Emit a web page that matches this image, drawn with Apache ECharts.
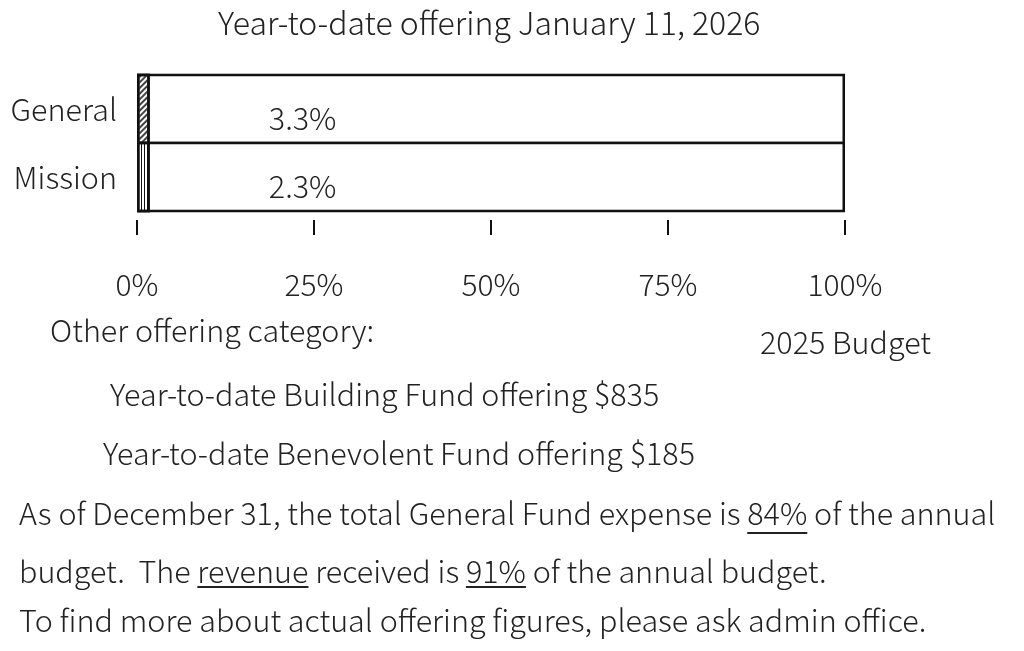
<!DOCTYPE html>
<html><head><meta charset="utf-8">
<script src="https://cdn.jsdelivr.net/npm/echarts@6/dist/echarts.min.js"></script>
<style>html,body{margin:0;padding:0;background:#fff}#c{width:1024px;height:651px}</style>
</head><body><div id="c"></div>
<script>
const categories = ['General', 'Mission'];
const percentLabels = ['3.3%', '2.3%'];
const fillLengths = [1.8, 1.8];
const budgetTotal = [100, 100];
const tickValues = [0, 25, 50, 75, 100];

const FONT = '"Noto Sans CJK JP", "Noto Sans", sans-serif';
const TXT = '#222';
const BODY = 30.5;
const BW = 2.5;
const chart = echarts.init(document.getElementById('c'));

const mctx = document.createElement('canvas').getContext('2d');
function fontStr(size) { return '300 ' + size + 'px ' + FONT; }
function txt(text, x, y, size) {
  return { type: 'text', x: x, y: y, style: { text: text, fill: TXT, font: fontStr(size || BODY), textVerticalAlign: 'middle' } };
}
function ulineWord(text, word, x, y, size) {
  mctx.font = fontStr(size || BODY);
  const i = text.indexOf(word);
  const x1 = x + mctx.measureText(text.slice(0, i)).width;
  const x2 = x1 + mctx.measureText(word).width;
  return { type: 'line', shape: { x1: x1, y1: y, x2: x2, y2: y }, style: { stroke: '#222', lineWidth: 2 } };
}

const line1 = 'As of December 31, the total General Fund expense is 84% of the annual';
const line2 = 'budget.  The revenue received is 91% of the annual budget.';
const line3 = 'To find more about actual offering figures, please ask admin office.';

const decals = [
  { symbol: 'rect', symbolSize: 1, color: '#444', dashArrayX: [1, 0], dashArrayY: [1.2, 1.3], rotation: -Math.PI / 4 },
  { symbol: 'rect', symbolSize: 1, color: '#111', dashArrayX: [1, 1.5], dashArrayY: [1, 0], rotation: 0 }
];

chart.setOption({
  animation: false,
  title: { text: 'Year-to-date offering January 11, 2026', left: 213, top: 2,
    textStyle: { fontFamily: FONT, fontWeight: 300, fontSize: 32, color: TXT } },
  grid: { left: 137, right: 179, top: 75, height: 136 },
  xAxis: {
    type: 'value', min: 0, max: 100, interval: 25, offset: 9,
    splitLine: { show: false },
    axisLine: { show: false },
    axisTick: { show: true, length: 15, lineStyle: { color: '#111', width: 2 } },
    axisLabel: { margin: 50, formatter: '{value}%', fontFamily: FONT, fontWeight: 300, fontSize: 30, color: TXT,
      customValues: tickValues }
  },
  yAxis: {
    type: 'category', data: categories, inverse: true,
    axisLine: { show: false }, axisTick: { show: false },
    axisLabel: { margin: 20, fontFamily: FONT, fontWeight: 300, fontSize: BODY, color: TXT }
  },
  series: [
    {
      type: 'bar', data: budgetTotal, barWidth: 68 + BW, barGap: '-100%', barCategoryGap: '0%', z: 2,
      itemStyle: { color: '#fff', borderColor: '#111', borderWidth: BW },
      label: { show: true, position: ['23.4%', '63%'], align: 'center', verticalAlign: 'middle',
        formatter: p => percentLabels[p.dataIndex], fontFamily: FONT, fontWeight: 300, fontSize: BODY, color: TXT }
    },
    {
      type: 'bar', data: fillLengths.map((v, i) => ({ value: v, itemStyle: { decal: decals[i] } })),
      barWidth: 68 + BW, barGap: '-100%', barCategoryGap: '0%', z: 3,
      itemStyle: { color: '#fff', borderColor: '#111', borderWidth: BW }
    }
  ],
  graphic: [
    txt('Other offering category:', 50, 330),
    txt('2025 Budget', 760, 342),
    txt('Year-to-date Building Fund offering $835', 110, 394),
    txt('Year-to-date Benevolent Fund offering $185', 103, 453),
    txt(line1, 19, 513),
    txt(line2, 19, 571),
    txt(line3, 19, 620),
    ulineWord(line1, '84%', 19, 533),
    ulineWord(line2, 'revenue', 19, 587),
    ulineWord(line2, '91%', 19, 587)
  ]
});
</script></body></html>
